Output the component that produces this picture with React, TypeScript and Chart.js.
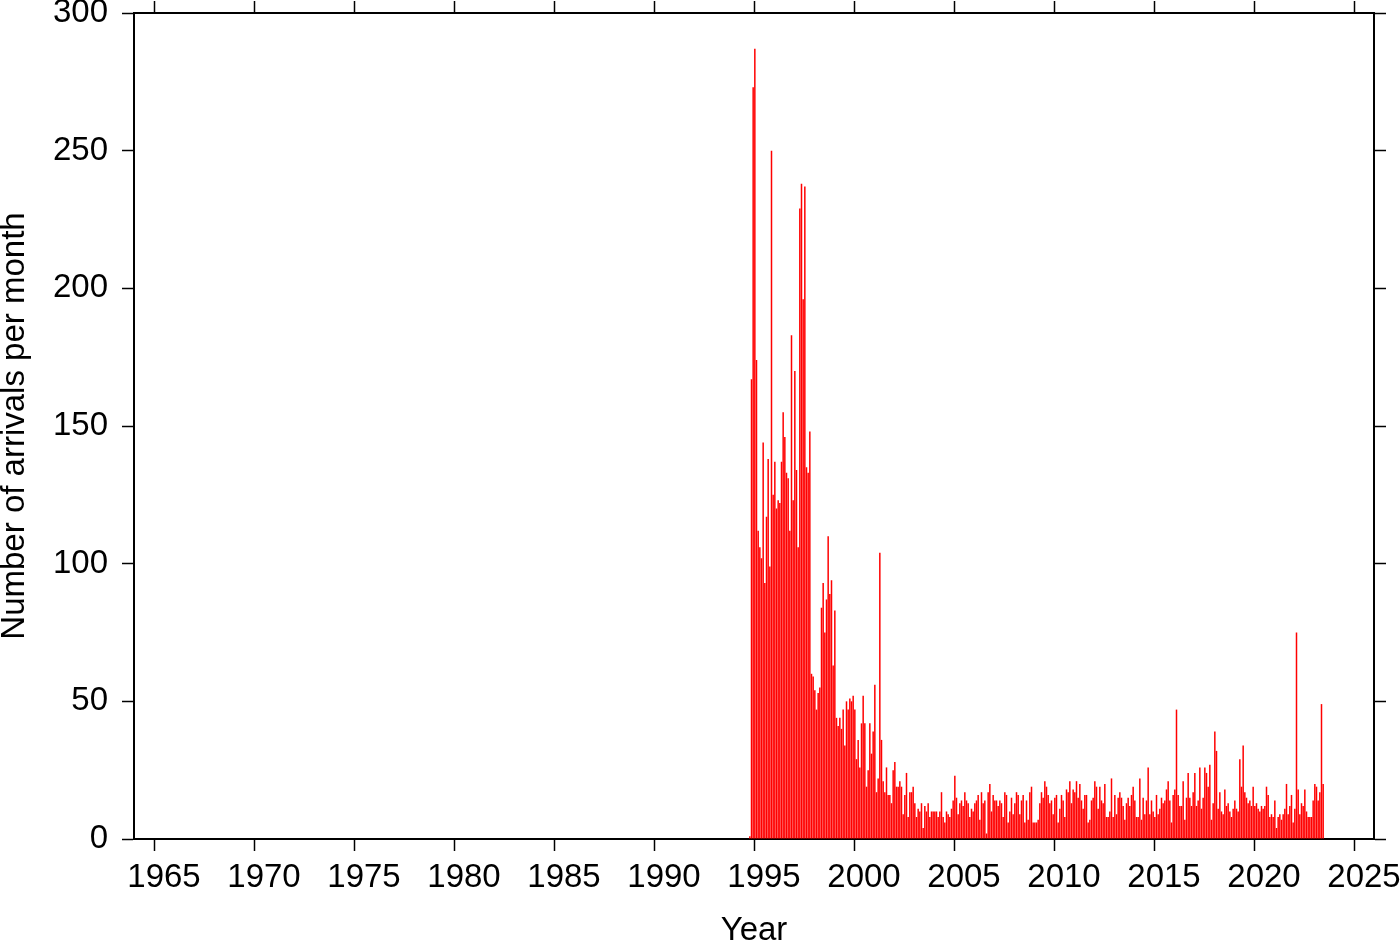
import { useEffect, useRef } from 'react';
import { Chart, registerables } from 'chart.js';

Chart.register(...registerables);

// First month shown: October 1994 (month index 9, zero-based)
const firstYear = 1994;
const firstMonth = 9;

// Monthly arrival counts
const arrivals1994to1999 = [
  1, 167, 273,
  287, 174, 112, 106, 102, 144, 93, 117, 138, 99, 250, 125,
  137, 120, 123, 122, 137, 155, 146, 133, 131, 112, 183, 123,
  170, 134, 106, 229, 238, 196, 237, 135, 133, 148, 60, 59,
  54, 47, 53, 55, 84, 93, 75, 87, 110, 89, 94, 63,
  83, 44, 41, 44, 40, 47, 34, 50, 47, 51, 50, 52,
];
const arrivals2000to2009 = [
  47, 29, 36, 26, 42, 52, 42, 19, 25, 42, 31, 39,
  56, 17, 22, 104, 36, 21, 17, 26, 16, 16, 13, 25,
  28, 19, 19, 21, 19, 9, 16, 24, 8, 17, 17, 19,
  13, 8, 11, 10, 13, 4, 12, 10, 13, 8, 10, 10,
  10, 10, 8, 10, 17, 8, 6, 10, 9, 8, 11, 14,
  23, 15, 9, 13, 14, 12, 17, 14, 13, 8, 11, 10,
  13, 14, 16, 7, 17, 13, 14, 2, 17, 20, 10, 16,
  14, 14, 12, 14, 13, 8, 17, 16, 6, 10, 15, 9,
  13, 17, 16, 9, 14, 16, 6, 14, 7, 17, 19, 6,
  6, 6, 7, 13, 17, 15, 21, 19, 16, 13, 14, 9,
];
const arrivals2010to2019 = [
  15, 16, 6, 11, 16, 14, 8, 18, 17, 21, 13, 18,
  17, 21, 15, 20, 14, 11, 16, 16, 6, 7, 14, 15,
  21, 19, 11, 19, 14, 13, 20, 8, 8, 10, 22, 8,
  16, 9, 15, 17, 15, 12, 7, 13, 15, 12, 16, 19,
  14, 8, 8, 22, 7, 15, 9, 14, 26, 9, 14, 10,
  8, 16, 9, 11, 15, 13, 14, 18, 21, 14, 6, 16,
  18, 47, 16, 12, 12, 21, 7, 15, 24, 15, 12, 17,
  24, 12, 14, 26, 11, 15, 26, 24, 19, 27, 7, 13,
  39, 32, 11, 17, 10, 9, 18, 12, 13, 10, 8, 11,
  14, 11, 10, 29, 19, 34, 17, 15, 13, 14, 12, 19,
];
const arrivals2020to2023 = [
  12, 13, 11, 10, 12, 11, 12, 19, 16, 8, 9, 8,
  14, 4, 8, 9, 7, 9, 11, 20, 9, 12, 16, 6,
  11, 75, 18, 9, 13, 12, 18, 10, 8, 8, 8, 14,
  20, 19, 14, 17, 49, 20,
];

const xTickYears = [1965, 1970, 1975, 1980, 1985, 1990, 1995, 2000, 2005, 2010, 2015, 2020, 2025];
const yTickValues = [0, 50, 100, 150, 200, 250, 300];
const xTitle = 'Year';
const yTitle = 'Number of arrivals per month';

export default function App() {
  const ref = useRef<HTMLCanvasElement>(null);

  useEffect(() => {
    const all = [...arrivals1994to1999, ...arrivals2000to2009, ...arrivals2010to2019, ...arrivals2020to2023];
    const points = all.map((v, i) => ({ x: firstYear + (firstMonth + i + 0.5) / 12, y: v }));
    const family = '"Liberation Sans", Arial, Helvetica, sans-serif';
    const tickFont = { family, size: 33 };
    const titleFont = { family, size: 33 };
    const gridCfg = {
      offset: false,
      drawOnChartArea: false,
      drawTicks: true,
      tickLength: 12,
      tickColor: '#000',
      tickWidth: 1.5,
    };
    const borderCfg = { display: true, color: '#000', width: 2 };
    const setX = (s: any) => { s.ticks = xTickYears.map((v) => ({ value: v })); };
    const setY = (s: any) => { s.ticks = yTickValues.map((v) => ({ value: v })); };
    const fixH = (h: number) => (s: any) => { s.height = h; s.paddingLeft = 0; s.paddingRight = 0; s.paddingTop = 0; s.paddingBottom = 0; };
    const fixW = (w: number) => (s: any) => { s.width = w; s.paddingLeft = 0; s.paddingRight = 0; s.paddingTop = 0; s.paddingBottom = 0; };

    const chart = new Chart(ref.current!, {
      type: 'bar',
      data: {
        datasets: [
          {
            data: points as any,
            backgroundColor: '#ff0000',
            borderWidth: 0,
            barPercentage: 0.9,
            categoryPercentage: 1,
            xAxisID: 'x',
            yAxisID: 'y',
          },
        ],
      },
      options: {
        animation: false,
        responsive: false,
        maintainAspectRatio: false,
        plugins: { legend: { display: false }, tooltip: { enabled: false } },
        layout: { padding: 0 },
        scales: {
          x: {
            type: 'linear',
            axis: 'x',
            position: 'bottom',
            offset: false,
            min: 1964,
            max: 2026,
            afterBuildTicks: setX,
            afterFit: fixH(103),
            ticks: { font: tickFont, color: '#000', padding: 7, labelOffset: 10, maxRotation: 0, autoSkip: false, callback: (v: any) => String(v) },
            grid: gridCfg,
            border: borderCfg,
            title: { display: true, text: xTitle, font: titleFont, color: '#000', padding: { top: 0, bottom: -9 } },
          },
          xTop: {
            type: 'linear',
            axis: 'x',
            position: 'top',
            offset: false,
            min: 1964,
            max: 2026,
            afterBuildTicks: setX,
            afterFit: fixH(13),
            ticks: { font: tickFont, autoSkip: false, maxRotation: 0, callback: () => '' },
            grid: gridCfg,
            border: borderCfg,
          },
          y: {
            type: 'linear',
            axis: 'y',
            position: 'left',
            offset: false,
            min: 0,
            max: 300,
            afterBuildTicks: setY,
            afterFit: fixW(134),
            ticks: { font: tickFont, color: '#000', padding: 14, autoSkip: false, callback: (v: any) => String(v) },
            grid: gridCfg,
            border: borderCfg,
            title: { display: true, text: yTitle, font: titleFont, color: '#000', padding: { top: -5, bottom: 0 } },
          },
          yRight: {
            type: 'linear',
            axis: 'y',
            position: 'right',
            offset: false,
            min: 0,
            max: 300,
            afterBuildTicks: setY,
            afterFit: fixW(26),
            ticks: { font: tickFont, autoSkip: false, callback: () => '' },
            grid: gridCfg,
            border: borderCfg,
          },
        },
      } as any,
    });
    return () => chart.destroy();
  }, []);

  return (
    <div style={{ position: 'fixed', left: 0, top: 0, width: 1400, height: 942, background: '#fff' }}>
      <canvas ref={ref} width={1400} height={942} style={{ display: 'block', width: 1400, height: 942 }} />
    </div>
  );
}
